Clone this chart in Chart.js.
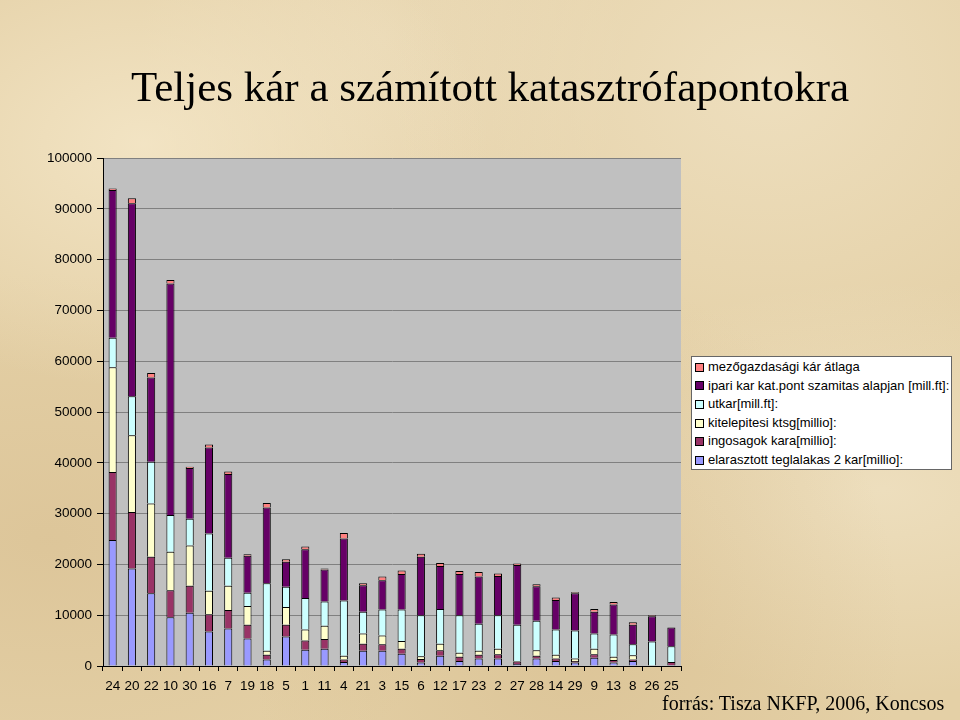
<!DOCTYPE html>
<html>
<head>
<meta charset="utf-8">
<script src="https://cdn.jsdelivr.net/npm/chart.js@4"></script>
<style>
html,body{margin:0;padding:0;width:960px;height:720px;overflow:hidden;}
body{
  background-color:#E4D0A6;
  background-image:
    radial-gradient(ellipse at 15% 20%, rgba(248,236,208,0.7), rgba(248,236,208,0) 30%),
    radial-gradient(ellipse at 80% 12%, rgba(244,232,205,0.6), rgba(244,232,205,0) 35%),
    radial-gradient(ellipse at 60% 88%, rgba(205,175,125,0.35), rgba(205,175,125,0) 40%),
    radial-gradient(ellipse at 5% 75%, rgba(210,182,135,0.4), rgba(210,182,135,0) 35%),
    radial-gradient(ellipse at 92% 68%, rgba(246,236,212,0.5), rgba(246,236,212,0) 30%),
    radial-gradient(ellipse at 40% 5%, rgba(240,226,196,0.5), rgba(240,226,196,0) 30%);
}
#wrap{position:relative;width:960px;height:720px;}
#c{position:absolute;left:0;top:0;}
#title{position:absolute;left:10px;width:960px;top:62px;text-align:center;
  font-family:"Liberation Serif","Times New Roman",serif;font-size:43px;color:#000;white-space:nowrap;}
#src{position:absolute;left:662px;top:692px;font-family:"Liberation Serif","Times New Roman",serif;
  font-size:20px;color:#000;letter-spacing:0;white-space:nowrap;}
#legend{position:absolute;left:691px;top:356px;width:261px;height:114px;background:#fff;
  border:1px solid #666;box-sizing:border-box;font-family:"Liberation Sans",Arial,sans-serif;
  font-size:13px;color:#000;padding-top:1px;}
.li{height:18.6px;line-height:18.6px;white-space:nowrap;display:flex;align-items:center;}
.mk{width:7px;height:7px;border:1px solid #000;margin-left:3px;margin-right:4px;flex:none;}
</style>
</head>
<body>
<div id="wrap">
  <canvas id="c" width="960" height="720"></canvas>
  <div id="title">Teljes kár a számított katasztrófapontokra</div>
  <div id="legend"></div>
  <div id="src">forrás: Tisza NKFP, 2006, Koncsos</div>
</div>
<script>
// Categories (catastrophe point IDs)
const categories = ['24','20','22','10','30','16','7','19','18','5','1','11','4','21','3','15','6','12','17','23','2','27','28','14','29','9','13','8','26','25'];

// Series values
const elarasztott = [24800,19200,14300,9600,10500,6800,7400,5400,1300,5800,3200,3400,800,3000,3000,2400,700,2000,1000,1500,1500,400,1500,1000,700,1600,700,1000,0,200];
const ingosagok   = [13400,11100,7200,5300,5300,3400,3600,2700,900,2300,1800,1900,500,1400,1300,1000,700,1100,800,700,800,500,500,500,300,700,500,300,0,600];
const kitelepitesi= [20600,15100,10500,7600,7900,4600,4800,3700,800,3500,2200,2600,700,2000,1700,1500,500,1300,800,800,1100,100,1100,700,500,1100,600,800,0,0];
const utkar       = [5800,7700,8200,7200,5300,11300,5500,2600,13300,4000,6200,4800,10900,4300,5100,6200,8100,6800,7400,5300,6600,7100,5800,5000,5500,3000,4400,2200,4800,3100];
const ipari       = [29100,38000,16600,45600,10000,16900,16500,7300,14900,4900,9600,6300,12200,5200,5800,7000,11500,8500,8100,9300,7700,11800,6800,5800,7300,4300,5900,3800,5000,3700];
const mezogazd    = [300,1000,900,700,200,600,500,300,900,500,500,200,1100,400,700,700,600,600,600,900,500,300,400,500,200,500,500,500,200,0];

const seriesLabels = [
  'elarasztott teglalakas 2 kar[millio]:',
  'ingosagok kara[millio]:',
  'kitelepitesi ktsg[millio]:',
  'utkar[mill.ft]:',
  'ipari kar kat.pont szamitas alapjan [mill.ft]:',
  'mezőgazdasági kár átlaga'
];
const seriesData = [elarasztott, ingosagok, kitelepitesi, utkar, ipari, mezogazd];
const seriesColors = ['#9999FF','#993366','#FFFFCC','#CCFFFF','#660066','#FF8080'];

// Y axis ticks
const yMin = 0, yMax = 100000, yStep = 10000;

const datasets = seriesData.map((d,i)=>({
  label: seriesLabels[i],
  data: d,
  backgroundColor: seriesColors[i],
  borderColor: '#000000',
  borderWidth: 1,
  barPercentage: 0.42,
  categoryPercentage: 1.0
}));

const plotBg = {
  id:'plotBg',
  beforeDraw(chart){
    const {ctx, chartArea:a} = chart;
    ctx.save();
    ctx.fillStyle = '#C0C0C0';
    ctx.fillRect(a.left, a.top, a.right-a.left, a.bottom-a.top);
    ctx.restore();
  }
};

const font = {family:'"Liberation Sans", Arial, sans-serif', size:13.5};

const chart = new Chart(document.getElementById('c').getContext('2d'), {
  type:'bar',
  data:{labels:categories, datasets},
  options:{
    responsive:false,
    animation:false,
    events:[],
    layout:{padding:{left:0, top:158, right:279, bottom:24}},
    plugins:{legend:{display:false}, tooltip:{enabled:false}, title:{display:false}},
    scales:{
      x:{
        stacked:true,
        grid:{drawOnChartArea:false, offset:true, tickLength:5, tickColor:'#000'},
        border:{color:'#000', width:1},
        ticks:{color:'#000', font, padding:7, maxRotation:0, autoSkip:false},
        afterFit(s){ s.height = 30; }
      },
      y:{
        stacked:true, min:yMin, max:yMax,
        grid:{color:'#808080', tickColor:'#000', tickLength:6},
        border:{color:'#000', width:1},
        ticks:{stepSize:yStep, color:'#000', font, padding:5, callback:v=>String(v)},
        afterFit(s){ s.width = 103; }
      }
    }
  },
  plugins:[plotBg]
});

// Legend (Excel order: reversed)
const lg = document.getElementById('legend');
chart.data.datasets.slice().reverse().forEach(ds=>{
  const row = document.createElement('div'); row.className='li';
  const mk = document.createElement('span'); mk.className='mk'; mk.style.background = ds.backgroundColor;
  const tx = document.createElement('span'); tx.textContent = ds.label;
  row.appendChild(mk); row.appendChild(tx); lg.appendChild(row);
});
</script>
</body>
</html>
